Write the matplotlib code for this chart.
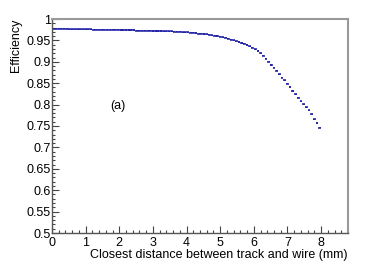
import matplotlib
matplotlib.use("Agg")
import matplotlib.pyplot as plt
from matplotlib.ticker import MultipleLocator, FormatStrFormatter
import numpy as np

plt.rcParams['font.family'] = ['Liberation Sans', 'DejaVu Sans']

bin_width = 0.08
distance = [round(0.04 + 0.08 * i, 2) for i in range(100)]
efficiency = [
    0.977, 0.977, 0.977, 0.977, 0.977, 0.977, 0.976, 0.976, 0.976, 0.976,
    0.976, 0.976, 0.976, 0.976, 0.976, 0.975, 0.975, 0.975, 0.975, 0.975,
    0.975, 0.975, 0.975, 0.975, 0.975, 0.974, 0.974, 0.974, 0.974, 0.974,
    0.974, 0.973, 0.973, 0.973, 0.973, 0.973, 0.973, 0.972, 0.972, 0.972,
    0.972, 0.971, 0.971, 0.971, 0.971, 0.970, 0.970, 0.970, 0.969, 0.969,
    0.969, 0.968, 0.968, 0.967, 0.966, 0.966, 0.965, 0.964, 0.963, 0.962,
    0.961, 0.960, 0.959, 0.957, 0.956, 0.954, 0.952, 0.950, 0.948, 0.946,
    0.944, 0.942, 0.939, 0.936, 0.933, 0.929, 0.925, 0.920, 0.914, 0.907,
    0.900, 0.8925, 0.886, 0.879, 0.871, 0.863, 0.857, 0.849, 0.841, 0.832,
    0.824, 0.816, 0.808, 0.801, 0.794, 0.787, 0.777, 0.766, 0.757, 0.746,
]
eff_err = [0.0015] * len(efficiency)

fig = plt.figure(figsize=(3.74, 2.69), dpi=100)
ax = fig.add_axes([52/374, 1-233/269, (348-52)/374, (233-19)/269])

ax.errorbar(distance, efficiency, xerr=bin_width/2, yerr=eff_err, fmt='none',
            ecolor='#1a1aa6', elinewidth=1.1, capsize=0)

ax.set_xlim(0, 8.8)
ax.set_ylim(0.5, 1.0)
ax.xaxis.set_major_locator(MultipleLocator(1))
ax.xaxis.set_minor_locator(MultipleLocator(0.2))
ax.yaxis.set_major_locator(MultipleLocator(0.05))
ax.yaxis.set_minor_locator(MultipleLocator(0.01))
ax.yaxis.set_major_formatter(FormatStrFormatter('%g'))
ax.xaxis.set_major_formatter(FormatStrFormatter('%g'))

ax.tick_params(which='both', direction='in', colors='#444444', labelcolor='black',
               labelsize=9, width=0.8)
ax.tick_params(which='major', length=5)
ax.tick_params(which='minor', length=2.5)
ax.tick_params(axis='x', pad=3)
ax.tick_params(axis='y', pad=1)

for s in ['left', 'bottom']:
    ax.spines[s].set_color('#555555')
    ax.spines[s].set_linewidth(1.0)
for s in ['top', 'right']:
    ax.spines[s].set_color('#999999')
    ax.spines[s].set_linewidth(1.5)

ax.set_xlabel('Closest distance between track and wire (mm)', fontsize=9,
              loc='right', labelpad=0)
ax.set_ylabel('Efficiency', fontsize=9, loc='top', labelpad=3)
ax.text(1.73, 0.797, '(a)', fontsize=9, ha='left', va='center')

fig.savefig('out.png', dpi=100)
